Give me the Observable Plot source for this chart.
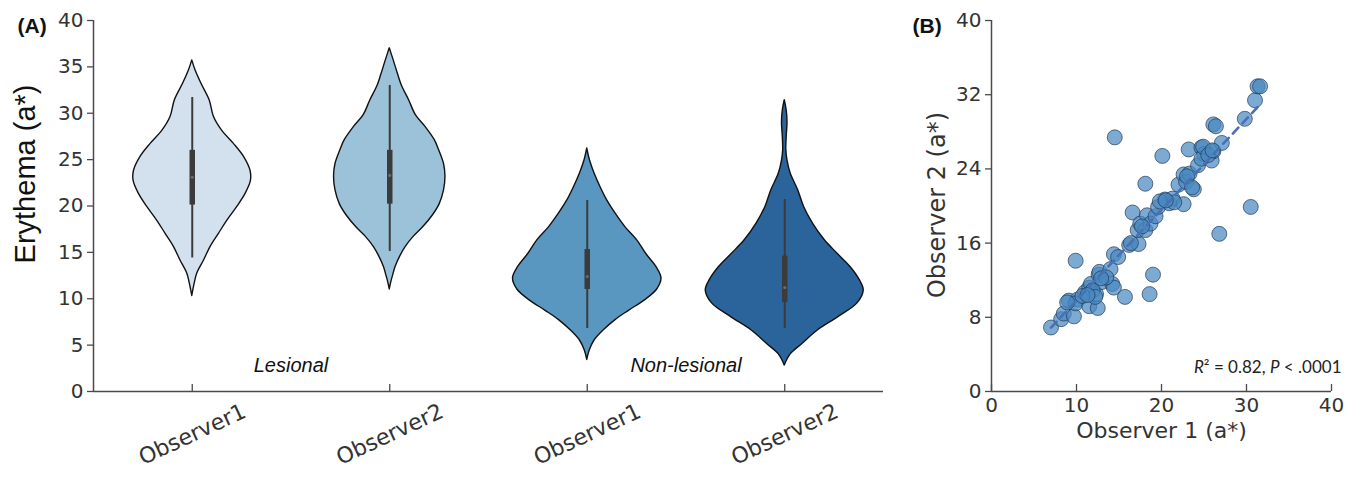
<!DOCTYPE html>
<html>
<head>
<meta charset="utf-8">
<script src="https://cdn.jsdelivr.net/npm/d3@7"></script>
<script src="https://cdn.jsdelivr.net/npm/@observablehq/plot@0.6"></script>
<style>
  html, body { margin: 0; padding: 0; background: #fff; }
  #wrap { display: flex; width: 1360px; height: 477px; overflow: hidden; }
</style>
</head>
<body>
<div id="wrap"></div>
<script>
// ---------- Panel A data ----------
const observers = ["Observer1", "Observer2", "Observer1", "Observer2"];
const groups = ["Lesional", "Lesional", "Non-lesional", "Non-lesional"];
const groupNames = ["Lesional", "Non-lesional"];
const violinColors = ["#d3e1ef", "#9cc2d9", "#5996c0", "#2b649b"];

// violin outlines: erythema level and half-width (fraction of category spacing)
const lesObs1Y = [35.7, 34.6, 33.2, 31.4, 29.6, 28.1, 26.7, 25.3, 23.8, 22.7, 21.3, 19.9, 18.4, 17.0, 15.6, 14.1, 12.7, 11.6, 10.3];
const lesObs1W = [0, .017, .046, .088, .110, .152, .211, .262, .295, .297, .270, .228, .177, .135, .093, .059, .025, .012, 0];
const lesObs2Y = [37.0, 35.7, 34.2, 33.0, 31.4, 29.8, 28.5, 27.1, 26.0, 24.5, 23.2, 21.7, 20.2, 19.0, 17.7, 16.7, 15.6, 14.6, 13.4, 12.5, 11.8, 11.0];
const lesObs2W = [0, .020, .042, .061, .098, .132, .182, .228, .250, .275, .282, .275, .253, .219, .169, .122, .081, .054, .029, .017, .008, 0];
const nonObs1Y = [26.2, 24.9, 23.5, 22.0, 20.6, 19.2, 17.7, 16.3, 14.8, 13.4, 12.2, 11.0, 9.8, 8.7, 7.7, 6.6, 5.5, 4.4, 3.4];
const nonObs1W = [0, .014, .037, .068, .101, .143, .194, .253, .300, .351, .376, .354, .290, .211, .143, .084, .037, .012, 0];
const nonObs2Y = [31.4, 30.3, 29.0, 27.5, 26.0, 24.9, 23.5, 21.7, 19.9, 18.1, 16.3, 14.8, 13.4, 12.0, 10.9, 9.5, 8.0, 6.6, 5.1, 4.0, 2.8];
const nonObs2W = [0, .010, .014, .010, .008, .014, .030, .068, .098, .143, .203, .270, .334, .380, .400, .368, .270, .169, .088, .030, 0];

// inner box statistics
const whiskerLow = [14.4, 15.1, 6.8, 6.8];
const whiskerHigh = [31.7, 33.0, 20.6, 20.7];
const q1 = [20.1, 20.2, 11.0, 9.6];
const q3 = [26.0, 26.0, 15.3, 14.6];
const medians = [23.1, 23.3, 12.4, 11.2];
const yTicksA = [0, 5, 10, 15, 20, 25, 30, 35, 40];

// ---------- Panel B data ----------
const observer1 = [7.0, 8.2, 8.5, 9.7, 9.1, 10.1, 9.9, 9.9, 11.0, 11.5, 11.7, 11.5, 12.5, 12.3, 12.6, 13.0, 12.7, 14.0, 14.2, 14.4,
  14.4, 14.5, 14.9, 15.7, 16.2, 16.6, 17.3, 17.2, 17.5, 18.1, 18.1, 18.3, 18.7, 18.6, 19.0, 19.3, 19.6, 20.1, 20.4, 20.9,
  21.3, 22.0, 22.6, 22.6, 22.9, 23.3, 23.2, 23.8, 24.3, 24.7, 25.0, 25.9, 26.1, 26.1, 26.4, 27.1, 26.8, 29.8, 30.5, 31.0,
  31.3, 31.6, 24.7, 8.9, 11.9, 12.2, 10.7, 13.5, 17.7, 19.8, 21.5, 23.0, 24.9, 25.5, 26.0, 23.6, 11.3, 12.9, 20.5, 16.4];
const observer2 = [6.9, 7.8, 8.4, 8.1, 9.8, 9.9, 9.5, 14.1, 10.7, 11.2, 11.6, 9.2, 9.0, 10.5, 12.6, 11.8, 12.9, 13.2, 11.6, 11.2,
  14.8, 27.4, 14.5, 10.2, 15.8, 19.3, 15.9, 17.4, 18.1, 22.4, 17.4, 19.0, 18.1, 10.5, 12.6, 18.9, 19.9, 25.4, 20.7, 20.3,
  20.8, 22.3, 20.2, 23.4, 22.6, 23.5, 26.1, 21.8, 24.4, 26.3, 25.6, 24.9, 25.9, 28.8, 28.6, 26.8, 17.0, 29.4, 19.9, 31.4,
  32.9, 32.9, 25.1, 9.6, 10.9, 10.2, 10.3, 12.3, 17.8, 20.5, 20.4, 23.2, 26.4, 25.5, 26.0, 22.0, 10.4, 12.2, 20.6, 16.0];
const xTicksB = [0, 10, 20, 30, 40];
const yTicksB = [0, 8, 16, 24, 32, 40];
const statText = "R² = 0.82, P < .0001";

// ---------- build tables ----------
const profiles = [[lesObs1Y, lesObs1W], [lesObs2Y, lesObs2W], [nonObs1Y, nonObs1W], [nonObs2Y, nonObs2W]];
const positions = observers.map((_, i) => i + 1);
const violinRows = profiles.flatMap(([ys, ws], i) => ys.map((y, j) => ({pos: i + 1, y, w: ws[j], color: violinColors[i]})));
const groupRows = groupNames.map(g => ({
  label: g,
  pos: d3.mean(positions.filter((p, i) => groups[i] === g))
}));
const points = observer1.map((x, i) => ({x, y: observer2[i]}));

const axisColor = "#4a4a4a";
const tickFont = "DejaVu Sans, Verdana, sans-serif";
const arial = "Liberation Sans, Arial, sans-serif";
const boxColor = "#3b3b3b";

const left = Plot.plot({
  width: 900, height: 477,
  marginTop: 20, marginBottom: 86, marginLeft: 93, marginRight: 17,
  x: {domain: [0.5, 4.5], axis: null},
  y: {domain: [0, 40], axis: null},
  style: {fontFamily: tickFont, color: "#333", background: "white", overflow: "visible"},
  marks: [
    Plot.areaX(violinRows, {
      y: "y", x1: d => d.pos - d.w, x2: d => d.pos + d.w, z: "pos",
      fill: "color", stroke: "#111", strokeWidth: 1.4, curve: "catmull-rom"
    }),
    Plot.ruleX(positions, {x: d => d, y1: (d, i) => whiskerLow[i], y2: (d, i) => whiskerHigh[i], stroke: boxColor, strokeWidth: 2}),
    Plot.ruleX(positions, {x: d => d, y1: (d, i) => q1[i], y2: (d, i) => q3[i], stroke: boxColor, strokeWidth: 5.5}),
    Plot.dot(positions, {x: d => d, y: (d, i) => medians[i], r: 1.6, fill: "#6a6a6a"}),
    Plot.axisY({ticks: yTicksA, tickSize: 6, tickPadding: 4, fontSize: 20, label: null, stroke: axisColor, strokeWidth: 1.3}),
    Plot.ruleX([0.5], {stroke: axisColor, strokeWidth: 1.5}),
    Plot.ruleY([0], {stroke: axisColor, strokeWidth: 1.5}),
    Plot.ruleX(positions, {x: d => d, y1: 0, y2: 0, insetBottom: 7, stroke: axisColor, strokeWidth: 1.3}),
    Plot.text(positions, {x: d => d, y: 0, dy: 43, rotate: -25, text: (d, i) => observers[i], fontSize: 22, fill: "#333", textAnchor: "middle"}),
    Plot.text(groupRows, {x: "pos", y: 0, dy: -26, text: "label", fontSize: 20, fontStyle: "italic", fontFamily: arial, fill: "#111"}),
    Plot.text(["Erythema (a*)"], {frameAnchor: "left", textAnchor: "middle", rotate: -90, dx: -68, dy: -32, fontSize: 29, fontFamily: arial, fill: "#111"}),
    Plot.text(["(A)"], {frameAnchor: "top-left", dx: -76, dy: -2, fontSize: 21, fontWeight: "bold", fontFamily: arial, fill: "#111"})
  ]
});

const right = Plot.plot({
  width: 460, height: 477,
  marginTop: 20, marginBottom: 86, marginLeft: 91, marginRight: 29,
  x: {domain: [0, 40], axis: null},
  y: {domain: [0, 40], axis: null},
  style: {fontFamily: tickFont, color: "#333", background: "white", overflow: "visible"},
  marks: [
    Plot.axisY({ticks: yTicksB, tickSize: 6, tickPadding: 4, fontSize: 20, label: null, stroke: axisColor, strokeWidth: 1.3}),
    Plot.axisX({ticks: xTicksB, tickSize: 0, tickPadding: 6, fontSize: 20, label: null}),
    Plot.ruleX([0], {stroke: axisColor, strokeWidth: 1.5}),
    Plot.ruleY([0], {stroke: axisColor, strokeWidth: 1.5}),
    Plot.ruleX(xTicksB, {x: d => d, y1: 0, y2: 0, insetBottom: 7, stroke: axisColor, strokeWidth: 1.3}),
    Plot.dot(points, {x: "x", y: "y", r: 7.5, fill: "#4a89c0", fillOpacity: 0.72, stroke: "#1e3550", strokeWidth: 0.9, strokeOpacity: 0.75}),
    Plot.linearRegressionY(points, {x: "x", y: "y", ci: 0, stroke: "#4a6fb3", strokeWidth: 2.6, strokeDasharray: "8,6"}),
    Plot.text([statText], {frameAnchor: "bottom-right", dx: 10, dy: -19, textAnchor: "end", fontSize: 17, fontFamily: "Lato, Open Sans, sans-serif", fill: "#222"}),
    Plot.text(["Observer 1 (a*)"], {frameAnchor: "bottom", dy: 46, fontSize: 22, fill: "#333"}),
    Plot.text(["Observer 2 (a*)"], {frameAnchor: "left", textAnchor: "middle", rotate: -90, dx: -54, dy: -1, fontSize: 24, fill: "#333"}),
    Plot.text(["(B)"], {frameAnchor: "top-left", dx: -79, dy: -2, fontSize: 21, fontWeight: "bold", fontFamily: arial, fill: "#111"})
  ]
});

// italicise R and P in the statistics note
right.querySelectorAll("text").forEach(t => {
  if (t.textContent === statText) {
    t.innerHTML = '<tspan font-style="italic">R</tspan>² = 0.82, <tspan font-style="italic">P</tspan> &lt; .0001';
  }
});

const wrap = document.getElementById("wrap");
wrap.appendChild(left);
wrap.appendChild(right);
</script>
</body>
</html>
